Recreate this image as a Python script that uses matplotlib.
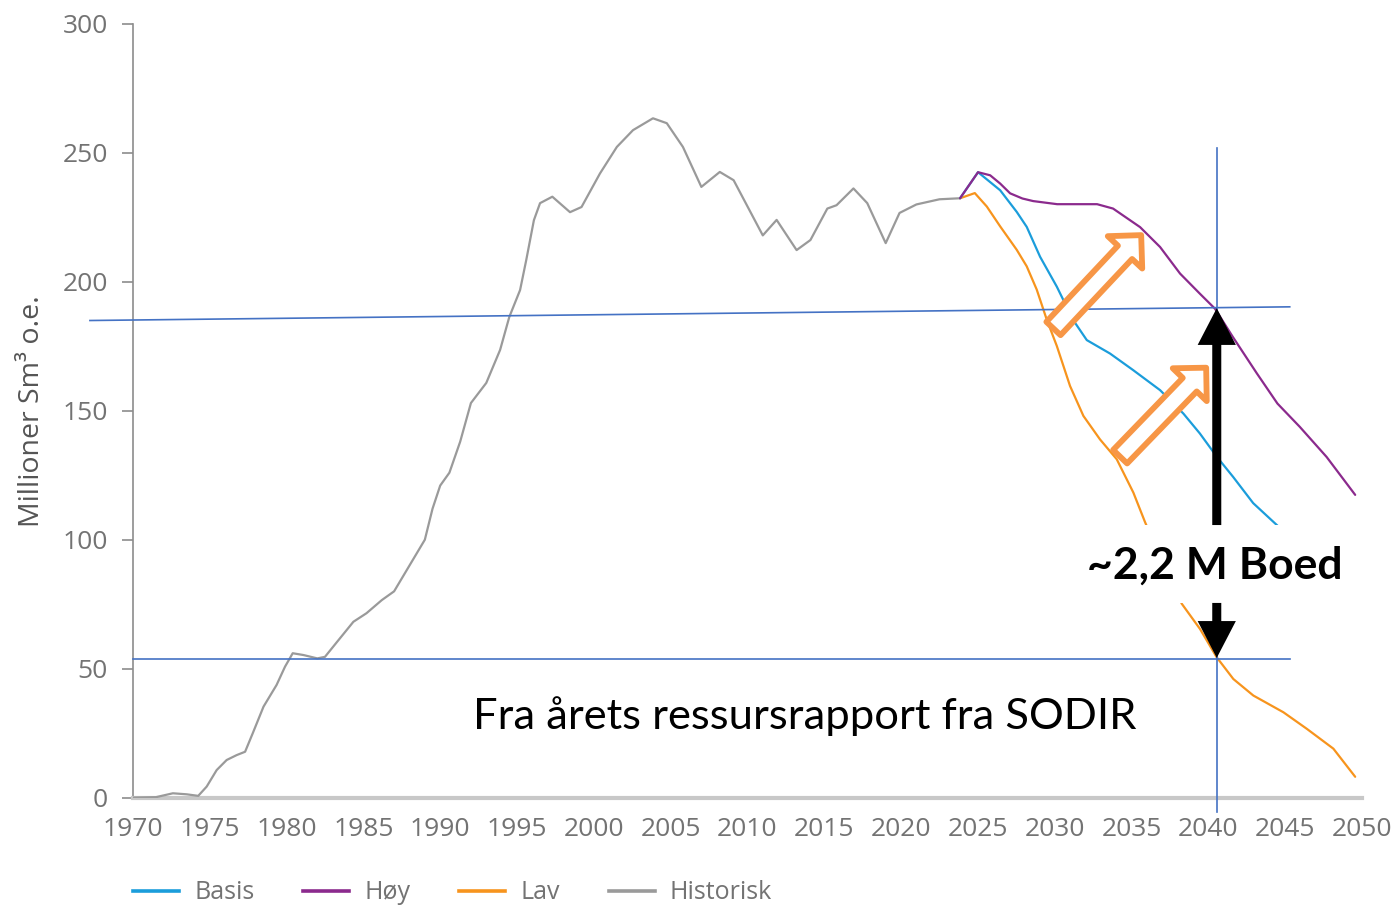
import matplotlib.pyplot as plt
from matplotlib.lines import Line2D
from matplotlib.patches import FancyArrowPatch, Rectangle

# historical production
hist_years = [1970.0, 1971.5, 1972.6, 1973.5, 1974.25, 1974.8, 1975.45, 1976.1, 1976.75, 1977.3,
              1977.8, 1978.5, 1979.35, 1979.9, 1980.4, 1981.1, 1982.0, 1982.5, 1983.3, 1984.35,
              1985.2, 1986.2, 1987.0, 1987.8, 1988.4, 1989.0, 1989.5, 1990.0, 1990.6, 1991.3,
              1992.0, 1993.0, 1993.9, 1994.5, 1995.2, 1995.6, 1996.1, 1996.5, 1997.3, 1998.45,
              1999.2, 2000.4, 2001.5, 2002.55, 2003.85, 2004.75, 2005.8, 2007.0, 2008.2, 2009.1,
              2011.0, 2011.9, 2013.2, 2014.1, 2015.2, 2015.8, 2016.9, 2017.8, 2019.0, 2019.9,
              2021.0, 2022.5, 2023.84]
hist_vals = [0, 0.2, 1.7, 1.3, 0.7, 4.3, 10.7, 14.6, 16.5, 17.8,
             25, 35.3, 43.7, 50.8, 56, 55.3, 54, 54.6, 60.5, 68.2,
             71.5, 76.6, 80, 88, 94, 100, 112, 121, 126, 138,
             153, 160.8, 173.6, 186.4, 196.8, 208.4, 223.9, 230.5, 233, 227,
             229, 242, 252.3, 258.8, 263.4, 261.5, 252.3, 236.8, 242.6, 239.4,
             218, 224, 212.3, 216.2, 228.4, 229.7, 236.2, 230.5, 215, 226.7,
             230, 232, 232.4]

# Høy scenario
hoy_years = [2023.84, 2025.01, 2025.8, 2026.45, 2027.1, 2027.9, 2028.6, 2030.16, 2032.76, 2033.8,
             2035.56, 2036.86, 2038.16, 2039.45, 2040.43, 2041.6, 2043.16, 2044.5, 2045.95,
             2047.7, 2049.56]
hoy_vals = [232.4, 242.5, 241.3, 238.1, 234.3, 232.3, 231.3, 230.1, 230.1, 228.4,
            221.2, 213.5, 203.2, 195.4, 189.6, 178.6, 164.5, 152.8, 143.8,
            132.1, 117.4]

# Basis scenario
basis_years = [2023.84, 2025.01, 2026.45, 2027.53, 2028.18, 2029.05, 2030.14, 2031.2, 2032.09, 2033.6,
               2035.1, 2036.86, 2038.38, 2039.45, 2040.55, 2041.61, 2042.92, 2044.46, 2046.0,
               2048.0, 2049.56]
basis_vals = [232.4, 242.5, 235.5, 227.1, 221.3, 209.7, 198.1, 185.2, 177.4, 172.2,
              165.8, 158.0, 148.9, 141.2, 132.2, 124.4, 114.2, 105.7, 97,
              88, 81]

# Lav scenario
lav_years = [2023.84, 2024.8, 2025.58, 2026.45, 2027.53, 2028.18, 2028.83, 2029.48, 2030.14, 2031.0,
             2031.87, 2032.95, 2034.04, 2035.12, 2035.89, 2037.1, 2038.27, 2039.46, 2040.55,
             2041.63, 2042.93, 2044.89, 2046.41, 2048.14, 2049.56]
lav_vals = [232.4, 234.4, 229.2, 221.5, 212.4, 206, 197, 185.4, 175.1, 159.6,
            148, 138.9, 131.2, 118.3, 106.7, 90, 75.2, 65.4, 54.4,
            46.0, 39.6, 33.1, 26.7, 19.0, 8.1]

series_labels = ["Basis", "Høy", "Lav", "Historisk"]
series_colors = ["#1b9ddb", "#8b2a8d", "#f7941d", "#9a9a9a"]

tick_gray = "#737373"
mark_blue = "#4472c4"
arrow_orange = "#f79646"

fig = plt.figure(figsize=(13.95, 9.05), dpi=100)
ax = fig.add_axes([0.0953, 0.1186, 0.881, 0.855])

line_kw = dict(lw=1.6, solid_joinstyle="round", solid_capstyle="round")
ax.plot(hist_years, hist_vals, color=series_colors[3], zorder=3, **line_kw)
ax.plot(lav_years, lav_vals, color=series_colors[2], zorder=3, **line_kw)
ax.plot(basis_years, basis_vals, color=series_colors[0], zorder=3, **line_kw)
ax.plot(hoy_years, hoy_vals, color=series_colors[1], zorder=4, **line_kw)

ax.set_xlim(1970, 2050)
ax.set_ylim(0, 300)
ax.set_xticks(range(1970, 2051, 5))
ax.set_yticks(range(0, 301, 50))

for s in ["top", "right"]:
    ax.spines[s].set_visible(False)
ax.spines["left"].set_color("#8c8c8c")
ax.spines["left"].set_linewidth(1.2)
ax.spines["bottom"].set_color("#c8c8c8")
ax.spines["bottom"].set_linewidth(3)
ax.tick_params(axis="x", length=0, pad=14, labelsize=19, labelcolor=tick_gray)
ax.tick_params(axis="y", length=8, width=1.2, color="#8c8c8c", pad=10,
               labelsize=19, labelcolor=tick_gray)
for lab in ax.get_xticklabels() + ax.get_yticklabels():
    lab.set_family("Open Sans")

ax.set_ylabel("Millioner Sm³ o.e.", family="Open Sans", fontsize=20.5, color="#555555",
              labelpad=12)

# annotation lines
ax.plot([1967.2, 2045.3], [185.0, 190.3], color=mark_blue, lw=1.2, clip_on=False, zorder=5)
ax.plot([1970, 2045.3], [53.6, 53.6], color=mark_blue, lw=1.2, clip_on=False, zorder=5)
ax.plot([2040.55, 2040.55], [252, -5.4], color=mark_blue, lw=1.2, clip_on=False, zorder=5)

# hollow orange arrows
for tail, tip in [((2029.92, 181.9), (2035.63, 218.1)), ((2034.26, 132.2), (2039.86, 166.7))]:
    ax.add_patch(FancyArrowPatch(tail, tip,
                                 arrowstyle="simple,head_length=17,head_width=34,tail_width=14",
                                 mutation_scale=1, shrinkA=0, shrinkB=0,
                                 fc="white", ec=arrow_orange, lw=4.2, zorder=6))

# white label box + black arrows
ax.add_patch(Rectangle((2032.0, 75.5), 19.5, 30.2, fc="white", ec="none",
                       clip_on=False, zorder=7))
black_style = "simple,head_length=26.5,head_width=27.5,tail_width=6.5"
ax.add_patch(FancyArrowPatch((2040.55, 105.7), (2040.55, 189.8), arrowstyle=black_style,
                             mutation_scale=1, shrinkA=0, shrinkB=0, fc="black", ec="none",
                             zorder=8))
ax.add_patch(FancyArrowPatch((2040.55, 75.5), (2040.55, 54.2), arrowstyle=black_style,
                             mutation_scale=1, shrinkA=0, shrinkB=0, fc="black", ec="none",
                             zorder=8))
ax.text(2040.44, 89.8, "~2,2 M Boed", family="Lato", weight="bold", fontsize=32,
        ha="center", va="center", color="black", zorder=9)
ax.text(2013.75, 31.7, "Fra årets ressursrapport fra SODIR", family="Lato", fontsize=31.3,
        ha="center", va="center", color="black", zorder=9)

handles = [Line2D([], [], color=c, lw=2.6) for c in series_colors]
leg = fig.legend(handles, series_labels, loc="center left", bbox_to_anchor=(0.0953, 0.0135),
                 ncol=4, frameon=False, borderpad=0, borderaxespad=0,
                 handlelength=1.85, handletextpad=0.6, columnspacing=1.95,
                 prop={"family": "Open Sans", "size": 18})
for t in leg.get_texts():
    t.set_color(tick_gray)

fig.savefig("out.png", dpi=100)
